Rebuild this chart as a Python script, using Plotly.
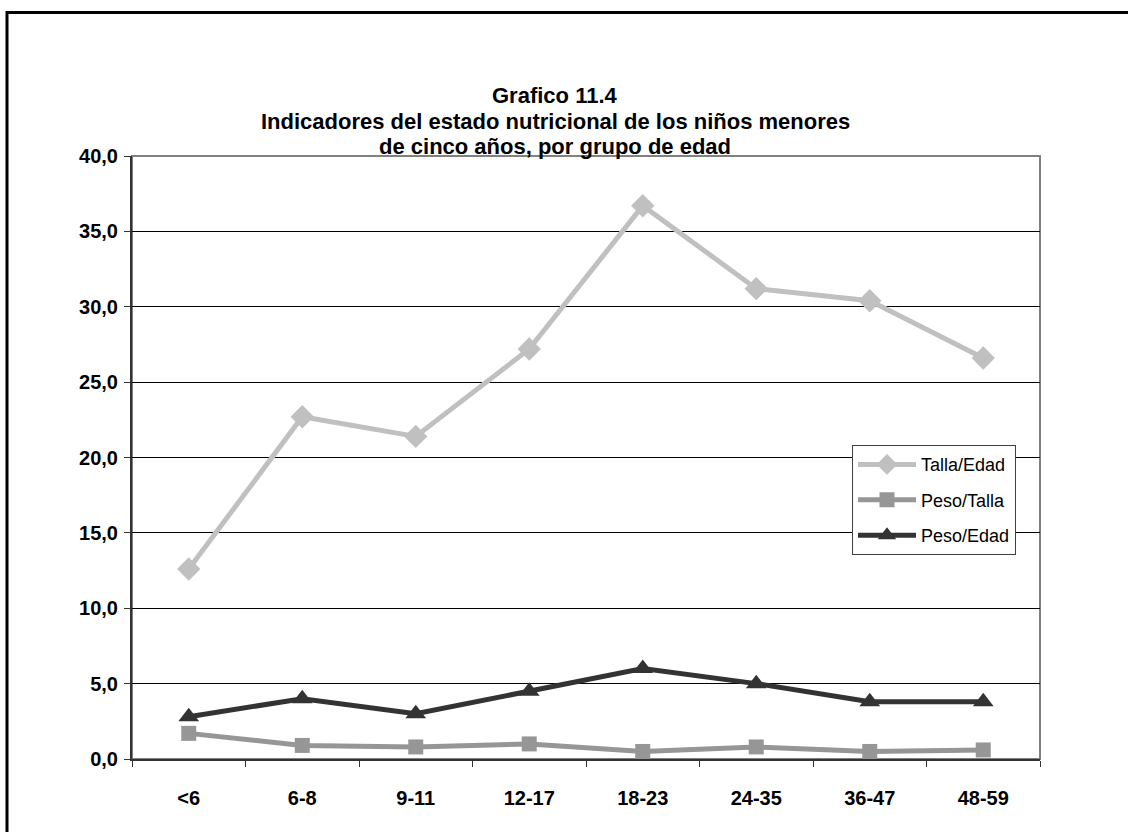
import plotly.graph_objects as go

categories = ["<6", "6-8", "9-11", "12-17", "18-23", "24-35", "36-47", "48-59"]
talla_edad = [12.6, 22.7, 21.4, 27.2, 36.7, 31.2, 30.4, 26.6]
peso_talla = [1.7, 0.9, 0.8, 1.0, 0.5, 0.8, 0.5, 0.6]
peso_edad = [2.8, 4.0, 3.0, 4.5, 6.0, 5.0, 3.8, 3.8]
y_ticks = [0, 5, 10, 15, 20, 25, 30, 35, 40]
title_lines = ["Grafico 11.4",
               "Indicadores del estado nutricional de los niños menores",
               "de cinco años, por grupo de edad"]

W, H = 1128, 832
L, R, T, B = 132, 1040, 155.5, 759
pw, ph = R - L, B - T

def px_x(p):
    return (p - L) / pw

def px_y(p):
    return (B - p) / ph

FONT = "Arial, Liberation Sans, sans-serif"

fig = go.Figure()
fig.add_trace(go.Scatter(
    x=categories, y=talla_edad, name="Talla/Edad", mode="lines+markers",
    line=dict(color="#C0C0C0", width=5),
    marker=dict(symbol="diamond", size=18, color="#C0C0C0"),
    legendgroup="a"))
fig.add_trace(go.Scatter(
    x=categories, y=peso_talla, name="Peso/Talla", mode="lines+markers",
    line=dict(color="#969696", width=5),
    marker=dict(symbol="square", size=15, color="#969696"),
    legendgroup="b"))
fig.add_trace(go.Scatter(
    x=categories, y=peso_edad, name="Peso/Edad", mode="lines+markers",
    line=dict(color="#333333", width=5),
    marker=dict(symbol="triangle-up", size=18, color="#333333"),
    legendgroup="c"))

annotations = []
for text, yc in zip(title_lines, [95, 121, 146]):
    annotations.append(dict(
        text="<b>" + text + "</b>", showarrow=False,
        xref="paper", yref="paper", x=px_x(555), y=px_y(yc),
        xanchor="center", yanchor="middle",
        font=dict(family=FONT, size=22, color="black")))

fig.update_layout(
    width=W, height=H,
    margin=dict(l=L, r=W - R, t=T, b=H - B, pad=0),
    paper_bgcolor="white", plot_bgcolor="white",
    separators=",.",
    font=dict(family=FONT, color="black"),
    annotations=annotations,
    xaxis=dict(
        type="category", showgrid=False, zeroline=False,
        showline=True, linecolor="#333333", linewidth=2,
        ticks="outside", tickson="boundaries", ticklen=6, tickcolor="#333333", tickwidth=1,
        tickfont=dict(family=FONT, size=20, color="black", weight="bold"),
        ticklabelstandoff=20, range=[-0.5, 7.5]),
    yaxis=dict(
        range=[0, 40], tickvals=y_ticks, tickformat=".1f",
        showgrid=True, gridcolor="black", gridwidth=1, zeroline=False,
        showline=True, linecolor="#333333", linewidth=2,
        ticks="outside", ticklen=6, tickcolor="#333333", tickwidth=1,
        tickfont=dict(family=FONT, size=20, color="black", weight="bold"),
        ticklabelstandoff=2),
    legend=dict(
        x=px_x(852), y=px_y(445), xanchor="left", yanchor="top",
        bordercolor="#404040", borderwidth=1, bgcolor="white",
        font=dict(family=FONT, size=18, color="black"),
        tracegroupgap=9, itemwidth=58),
    showlegend=True,
    shapes=[
        dict(type="rect", xref="paper", yref="paper", x0=0, x1=1, y0=0, y1=1,
             line=dict(color="#808080", width=2), layer="below"),
        dict(type="rect", xref="paper", yref="paper",
             x0=px_x(7), x1=px_x(1200), y0=px_y(12), y1=px_y(900),
             line=dict(color="black", width=3)),
    ],
)

fig.write_html(
    "out.html",
    config={"displayModeBar": False},
    post_script="document.body.style.margin='0';document.body.style.overflow='hidden';")
